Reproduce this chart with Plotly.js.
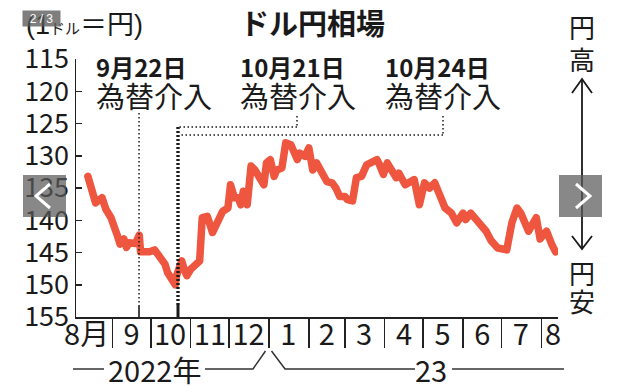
<!DOCTYPE html>
<html><head><meta charset="utf-8">
<script src="https://cdn.plot.ly/plotly-3.0.1.min.js"></script>
<style>
html,body{margin:0;padding:0;background:#fff;}
#chart{width:630px;height:387px;}
.js-line{stroke-linejoin:round;stroke-linecap:round;}
</style></head><body><div id="chart"></div>
<script>
// ---- data ----
const dates = ['2022-08-13','2022-08-16','2022-08-19','2022-08-24','2022-08-27','2022-08-31','2022-09-03','2022-09-05','2022-09-07','2022-09-10','2022-09-12','2022-09-14','2022-09-19','2022-09-22','2022-09-23','2022-09-27','2022-09-30','2022-10-04','2022-10-08','2022-10-12','2022-10-14','2022-10-18','2022-10-20','2022-10-21','2022-10-25','2022-10-27','2022-10-29','2022-11-01','2022-11-05','2022-11-08','2022-11-10','2022-11-14','2022-11-18','2022-11-22','2022-11-26','2022-11-30','2022-12-02','2022-12-05','2022-12-08','2022-12-10','2022-12-12','2022-12-15','2022-12-18','2022-12-21','2022-12-25','2022-12-28','2022-12-30','2023-01-02','2023-01-05','2023-01-07','2023-01-11','2023-01-14','2023-01-18','2023-01-20','2023-01-23','2023-01-25','2023-01-29','2023-02-01','2023-02-04','2023-02-07','2023-02-11','2023-02-15','2023-02-19','2023-02-22','2023-02-25','2023-03-01','2023-03-03','2023-03-07','2023-03-10','2023-03-14','2023-03-18','2023-03-22','2023-03-26','2023-03-28','2023-03-31','2023-04-03','2023-04-07','2023-04-10','2023-04-12','2023-04-17','2023-04-24','2023-04-28','2023-05-02','2023-05-06','2023-05-10','2023-05-14','2023-05-18','2023-05-23','2023-05-27','2023-06-01','2023-06-03','2023-06-07','2023-06-11','2023-06-15','2023-06-19','2023-06-23','2023-06-28','2023-07-05','2023-07-09','2023-07-13','2023-07-16','2023-07-22','2023-07-28','2023-07-31','2023-08-05','2023-08-09','2023-08-12'];
const rates = [133.2,135.5,137.3,136.5,138.3,139.6,140.9,142.4,143.7,142.9,144.2,143.5,143.6,142.3,144.9,145.0,144.9,144.6,145.5,146.8,148.1,149.4,150.0,148.6,146.3,147.6,148.6,147.6,146.6,146.3,139.6,139.4,141.9,139.9,138.6,138.1,134.5,136.5,136.5,137.6,135.5,137.6,131.6,132.2,133.4,134.5,131.1,130.6,133.2,132.2,131.9,128.0,128.3,129.1,130.6,129.6,130.1,128.8,132.2,131.1,132.4,134.0,134.2,135.0,136.3,136.3,136.8,137.0,133.4,133.2,131.4,130.9,130.6,131.4,132.9,131.1,132.2,133.4,132.7,134.5,133.7,137.6,134.2,135.0,134.2,136.0,138.1,138.9,140.4,138.9,139.9,138.9,139.9,140.9,141.7,143.2,144.3,144.6,140.4,138.1,138.9,141.7,139.6,142.9,141.7,143.7,144.9];

const monthLabelDates = ['2022-08-12','2022-09-16','2022-10-16','2022-11-16','2022-12-16','2023-01-16','2023-02-15','2023-03-16','2023-04-16','2023-05-16','2023-06-16','2023-07-16','2023-08-10'];
const monthLabels = ['8月','9','10','11','12','1','2','3','4','5','6','7','8'];
const monthStarts = ['2022-09-01','2022-10-01','2022-11-01','2022-12-01','2023-01-01','2023-02-01','2023-03-01','2023-04-01','2023-05-01','2023-06-01','2023-07-01','2023-08-01'];
const yTicks = [115,120,125,130,135,140,145,150,155];
const interventionLabels = ['9月22日','10月21日','10月24日'];
const interventionText = '為替介入';
const yearLabels = ['2022年','23'];
const titleText = 'ドル円相場';
const unitText = '(1<span style="font-size:15px">ドル</span>＝円)';

// ---- layout helpers (pixel -> paper) ----
const L=76, R=558, T=59, B=317;
const px = x => (x-L)/(R-L);
const py = y => (B-y)/(B-T);
const FN = '"Liberation Sans Narrow", "Noto Sans CJK JP", sans-serif';
const FS = '"Liberation Sans", "Noto Sans CJK JP", sans-serif';
const FJ = '"Noto Sans CJK JP", sans-serif';
const INK = '#1a1a1a';

const trace = {
  x: dates, y: rates, type: 'scatter', mode: 'lines',
  line: {color: '#ee5640', width: 7.5}, hoverinfo: 'skip'
};

const shapes = [];
function seg(x0,y0,x1,y1,w,dash,color){
  shapes.push({type:'line', xref:'paper', yref:'paper', x0:px(x0), y0:py(y0), x1:px(x1), y1:py(y1),
    line:{color: color||INK, width:w, dash: dash||'solid'}});
}
function pathShape(pts, w, color, layer){
  const d = pts.map((p,i)=>(i?'L':'M')+px(p[0])+','+py(p[1])).join(' ');
  shapes.push({type:'path', xref:'paper', yref:'paper', path:d, layer: layer||'above',
    line:{color: color||INK, width:w}});
}
// intervention connectors
seg(139,113,139,306,1.5,'1.5px,2.5px');
seg(139,306,139,317,1.6);
seg(297,116,297,127,1.5,'1.5px,2.5px');
seg(297,127,178,127,1.5,'1.5px,2.5px');
seg(443,116,443,135,1.5,'1.5px,2.5px');
seg(443,135,180,135,1.5,'1.5px,2.5px');
seg(178,127,178,305,3.4,'2px,2px');
seg(178,305,178,317,3);
// year bracket line
seg(73,369,104,369,1.5,null,'#333');
pathShape([[205,369],[253,369],[265.5,351]],1.5,'#333');
pathShape([[271.5,351],[285,369],[415,369]],1.5,'#333');
seg(452,369,564,369,1.5,null,'#333');
// right-side arrow
seg(582,80,582,248,1.8);
pathShape([[572,93],[582,79],[592,93]],1.8);
pathShape([[572,236],[582,249],[592,236]],1.8);
// carousel overlay buttons
shapes.push({type:'rect', xref:'paper', yref:'paper', x0:px(23), x1:px(66), y0:py(175), y1:py(217), layer:'above',
  fillcolor:'rgba(90,90,90,0.72)', line:{width:0}});
shapes.push({type:'rect', xref:'paper', yref:'paper', x0:px(559), x1:px(602), y0:py(175), y1:py(217), layer:'above',
  fillcolor:'rgba(90,90,90,0.72)', line:{width:0}});
pathShape([[50,184],[36,196],[50,208]],3,'#ffffff');
pathShape([[576,184],[590,196],[576,208]],3,'#ffffff');

const ann = [];
function txt(text,x,y,size,family,xanchor,extra){
  ann.push(Object.assign({text:text, xref:'paper', yref:'paper', x:px(x), y:py(y), showarrow:false,
    xanchor:xanchor||'center', yanchor:'middle', font:{size:size, family:family, color:INK}}, extra||{}));
}
txt('<b>'+titleText+'</b>',312,22,29,FJ);
txt(unitText,24,25,27,FS,'left');
const labX = [94,238,383];
interventionLabels.forEach((t,i)=>{
  txt('<b>'+t+'</b>',labX[i],66,24,FN,'left');
  txt(interventionText,labX[i],95,29,FJ,'left');
});
txt('円',582,26,26,FJ); txt('高',582,58,26,FJ);
txt('円',582,272,26,FJ); txt('安',582,300,26,FJ);
txt(yearLabels[0],154,369,29,FN);
txt(yearLabels[1],431,369,29,FN);
// page counter overlay
ann.push({text:'2 / 3', xref:'paper', yref:'paper', x:px(41), y:py(18.5), showarrow:false, xanchor:'center', yanchor:'middle',
  font:{size:12, family:'"Liberation Sans", sans-serif', color:'#ffffff'}, bgcolor:'rgba(90,90,90,0.78)', width:35, height:13});

const layout = {
  width:630, height:387,
  margin:{l:L, r:630-R, t:T, b:387-B, pad:0},
  paper_bgcolor:'#fff', plot_bgcolor:'#fff',
  showlegend:false,
  xaxis:{type:'date', range:['2022-08-03 18:00','2023-08-13 22:00'], showgrid:false, zeroline:false,
    showline:true, linecolor:'#222', linewidth:1.5,
    tickmode:'array', tickvals:monthLabelDates, ticktext:monthLabels, ticks:'',
    tickfont:{size:29, family:FN, color:INK}, ticklabelstandoff:-8,
    minor:{tickmode:'array', tickvals:monthStarts, ticks:'outside', ticklen:29, tickwidth:1.5, tickcolor:'#222', showgrid:false}},
  yaxis:{range:[155,115], showgrid:false, zeroline:false, showline:true, linecolor:'#222', linewidth:1.5,
    tickmode:'array', tickvals:yTicks, ticktext:yTicks.map(String), ticks:'inside', ticklen:6, tickwidth:1.5, tickcolor:'#222',
    tickfont:{size:27, family:FN, color:INK}, ticklabelstandoff:0},
  shapes:shapes, annotations:ann
};
Plotly.newPlot('chart',[trace],layout,{staticPlot:true, displayModeBar:false});
</script></body></html>
